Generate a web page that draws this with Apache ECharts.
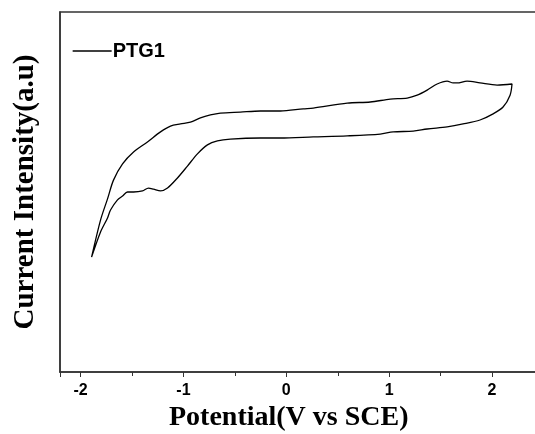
<!DOCTYPE html>
<html>
<head>
<meta charset="utf-8">
<script src="https://cdn.jsdelivr.net/npm/echarts@6/dist/echarts.min.js"></script>
<style>html,body{margin:0;padding:0;background:#fff;}#c{width:535px;height:434px;}</style>
</head>
<body>
<div id="c"></div>
<script>
// Potential (V vs SCE), closed CV loop: upper branch (left->right) then lower branch (right->left)
const potential = [
  -1.893,-1.806,-1.738,-1.680,-1.592,-1.485,-1.350,-1.223,-1.126,-1.029,-0.932,-0.835,-0.738,-0.641,-0.447,-0.252,-0.058,0.165,0.262,0.592,0.816,1.010,1.175,1.272,1.369,1.466,1.563,1.621,1.660,1.757,1.883,2.049,2.194,
  2.175,2.107,2.010,1.883,1.718,1.563,1.369,1.233,1.039,0.913,0.592,0.262,-0.058,-0.252,-0.544,-0.670,-0.767,-0.864,-0.961,-1.058,-1.155,-1.223,-1.291,-1.340,-1.398,-1.485,-1.544,-1.592,-1.641,-1.709,-1.738,-1.806,-1.893
];
const current = [
  31.9,42.2,48.1,53.3,57.8,61.1,63.9,66.7,68.3,68.9,69.4,70.6,71.4,71.9,72.2,72.5,72.5,73.1,73.3,74.7,75.0,75.8,76.1,76.9,78.3,80.0,80.8,80.3,80.3,80.8,80.3,79.7,80.0,
  76.9,73.6,71.7,70.0,68.9,68.1,67.5,66.9,66.7,66.1,65.6,65.3,65.0,65.0,64.7,64.2,63.1,60.6,57.2,53.9,51.1,50.3,50.8,51.1,50.3,50.0,50.0,48.9,47.8,45.0,42.8,38.9,31.9
];
const seriesName = 'PTG1';
const xTitle = 'Potential(V vs SCE)';
const yTitle = 'Current Intensity(a.u)';

const data = potential.map((v, i) => [v, current[i]]);
const chart = echarts.init(document.getElementById('c'), null, {renderer: 'canvas'});
chart.setOption({
  animation: false,
  backgroundColor: '#fff',
  grid: {left: 60, top: 12, width: 483.5, bottom: 62, show: true, borderColor: '#333', borderWidth: 1.5,
         containLabel: false, outerBoundsMode: 'none'},
  legend: {
    data: [seriesName], left: 72, top: 41, padding: 0, itemWidth: 39, itemHeight: 14, itemGap: 2,
    itemStyle: {opacity: 0},
    lineStyle: {color: '#000', width: 1.3},
    textStyle: {fontFamily: 'Liberation Sans', fontWeight: 'bold', fontSize: 20, color: '#000', padding: [0,0,0,-4]}
  },
  xAxis: {
    type: 'value', min: -2.2, max: 2.5, splitNumber: 5,
    name: xTitle, nameLocation: 'middle', nameGap: 29,
    nameTextStyle: {fontFamily: 'Liberation Serif', fontWeight: 'bold', fontSize: 28, color: '#000', padding: [0, 26, 0, 0]},
    axisLine: {show: true, onZero: false, lineStyle: {color: '#333', width: 1.5}},
    axisTick: {show: true, length: 5, lineStyle: {color: '#333'}},
    minorTick: {show: true, splitNumber: 2, length: 4, lineStyle: {color: '#333'}},
    axisLabel: {showMinLabel: false, showMaxLabel: false, margin: 11, fontFamily: 'Liberation Sans', fontWeight: 'bold', fontSize: 16, color: '#000'},
    splitLine: {show: false}
  },
  yAxis: {
    type: 'value', min: 0, max: 100,
    name: yTitle, nameLocation: 'middle', nameGap: 20, nameRotate: 90,
    nameTextStyle: {fontFamily: 'Liberation Serif', fontWeight: 'bold', fontSize: 29, color: '#000'},
    axisLine: {show: true, onZero: false, lineStyle: {color: '#333', width: 1.5}},
    axisTick: {show: false}, axisLabel: {show: false}, splitLine: {show: false}
  },
  series: [{
    name: seriesName, type: 'line', data: data, showSymbol: false, symbol: 'none',
    smooth: 0.3, lineStyle: {color: '#000', width: 1.3}, itemStyle: {color: '#000'}
  }]
});
</script>
</body>
</html>
